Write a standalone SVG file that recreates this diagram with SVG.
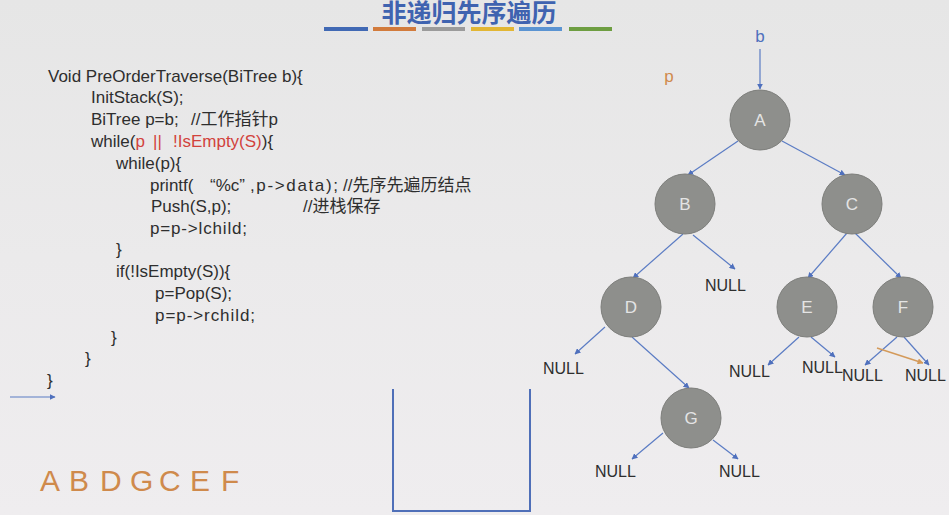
<svg xmlns="http://www.w3.org/2000/svg" width="949" height="515" viewBox="0 0 949 515">
<defs>
<linearGradient id="bg" x1="0" y1="0" x2="0" y2="1">
<stop offset="0" stop-color="#e6e6e6"/>
<stop offset="0.5" stop-color="#ebeaeb"/>
<stop offset="1" stop-color="#efedef"/>
</linearGradient>
<marker id="ah" viewBox="0 0 10 10" refX="9" refY="5" markerWidth="6" markerHeight="6" orient="auto" markerUnits="userSpaceOnUse">
<path d="M0,0 L10,5 L0,10 z" fill="#4f70bd"/>
</marker>
<marker id="aho" viewBox="0 0 10 10" refX="9" refY="5" markerWidth="6" markerHeight="6" orient="auto" markerUnits="userSpaceOnUse">
<path d="M0,0 L10,5 L0,10 z" fill="#d49a5a"/>
</marker>
</defs>
<style>
.code text{font-family:"Liberation Sans","Noto Sans CJK SC",sans-serif;font-size:17px;fill:#2e2e2e}
.code .red{fill:#d2423c}
.node circle{fill:#8e8f8c;stroke:#7d7e7b;stroke-width:1}
.node text{font-family:"Liberation Sans",sans-serif;font-size:17px;fill:#e4e4e4;text-anchor:middle}
.null{font-family:"Liberation Sans",sans-serif;font-size:16px;fill:#2e2e2e}
.res{font-family:"Liberation Sans",sans-serif;font-size:30px;fill:#cf8a4c}
.edge{stroke:#5b7cc4;stroke-width:1.2;fill:none;marker-end:url(#ah)}
</style>
<rect width="949" height="515" fill="url(#bg)"/>
<text x="469" y="22" text-anchor="middle" font-family="Liberation Sans,'Noto Sans CJK SC',sans-serif" font-size="25" font-weight="bold" fill="#3f63b0">非递归先序遍历</text>
<g id="bars">
<rect x="324" y="27" width="44" height="4" fill="#4169b4"/>
<rect x="373" y="27" width="43" height="4" fill="#d27b3c"/>
<rect x="422" y="27" width="43" height="4" fill="#9b9b9b"/>
<rect x="471" y="27" width="43" height="4" fill="#e2b634"/>
<rect x="519" y="27" width="43" height="4" fill="#5b94d2"/>
<rect x="569" y="27" width="43" height="4" fill="#6e9e42"/>
</g>
<g id="code" class="code">
<text x="48" y="82">Void PreOrderTraverse(BiTree b){</text>
<text x="91" y="103">InitStack(S);</text>
<text x="91" y="125">BiTree p=b;</text>
<text x="191" y="125">//工作指针p</text>
<text x="91" y="147">while(<tspan class="red">p</tspan><tspan x="153" class="red">||</tspan><tspan x="173" class="red">!IsEmpty(S)</tspan>){</text>
<text x="116" y="169">while(p){</text>
<text x="150" y="191">printf(</text>
<text x="210" y="191">“%c”</text>
<text x="250" y="191" textLength="88" lengthAdjust="spacing">,p-&gt;data);</text>
<text x="343" y="191">//先序先遍历结点</text>
<text x="151" y="212">Push(S,p);</text>
<text x="303" y="212">//进栈保存</text>
<text x="150" y="234" textLength="97" lengthAdjust="spacing">p=p-&gt;lchild;</text>
<text x="116" y="255">}</text>
<text x="116" y="277">if(!IsEmpty(S)){</text>
<text x="155" y="299">p=Pop(S);</text>
<text x="155" y="321" textLength="100" lengthAdjust="spacing">p=p-&gt;rchild;</text>
<text x="111" y="343">}</text>
<text x="85" y="364">}</text>
<text x="47" y="386">}</text>
</g>
<g id="result" class="res">
<text x="40" y="491">A</text>
<text x="69" y="491">B</text>
<text x="100" y="491">D</text>
<text x="130" y="491">G</text>
<text x="159" y="491">C</text>
<text x="190" y="491">E</text>
<text x="221" y="491">F</text>
</g>
<g id="stack">
<path d="M393,389 V511 H530 V389" fill="none" stroke="#4f6fb8" stroke-width="2"/>
</g>
<g id="labels">
<text x="760" y="42" text-anchor="middle" font-family="Liberation Sans,sans-serif" font-size="17" fill="#4f70bd">b</text>
<text x="669" y="82" text-anchor="middle" font-family="Liberation Sans,sans-serif" font-size="17" fill="#d08a4c">p</text>
</g>
<g id="connectors">
<line class="edge" x1="10" y1="397" x2="55" y2="397"/>
<line class="edge" x1="760" y1="49" x2="760" y2="89"/>
<line class="edge" x1="738" y1="141" x2="688" y2="175"/>
<line class="edge" x1="782" y1="141" x2="845" y2="175"/>
<line class="edge" x1="683" y1="234" x2="633" y2="278"/>
<line class="edge" x1="693" y1="235" x2="735" y2="269"/>
<line class="edge" x1="847" y1="233" x2="808" y2="278"/>
<line class="edge" x1="855" y1="233" x2="901" y2="278"/>
<line class="edge" x1="605" y1="327" x2="575" y2="354"/>
<line class="edge" x1="632" y1="337" x2="689" y2="388"/>
<line class="edge" x1="799" y1="337" x2="768" y2="365"/>
<line class="edge" x1="811" y1="337" x2="835" y2="357"/>
<line class="edge" x1="897" y1="337" x2="865" y2="365"/>
<line class="edge" x1="904" y1="337" x2="929" y2="365"/>
<line class="edge" x1="663" y1="433" x2="632" y2="459"/>
<line class="edge" x1="713" y1="440" x2="738" y2="459"/>
<line x1="877" y1="348" x2="923" y2="363" stroke="#d49a5a" stroke-width="1.4" marker-end="url(#aho)"/>
</g>
<g id="nA" class="node"><circle cx="760" cy="120" r="30"/><text x="760" y="126">A</text></g>
<g id="nB" class="node"><circle cx="685" cy="204" r="30"/><text x="685" y="210">B</text></g>
<g id="nC" class="node"><circle cx="852" cy="204" r="30"/><text x="852" y="210">C</text></g>
<g id="nD" class="node"><circle cx="631" cy="307" r="30"/><text x="631" y="313">D</text></g>
<g id="nE" class="node"><circle cx="807" cy="307" r="30"/><text x="807" y="313">E</text></g>
<g id="nF" class="node"><circle cx="903" cy="307" r="30"/><text x="903" y="313">F</text></g>
<g id="nG" class="node"><circle cx="691" cy="418" r="30"/><text x="691" y="424">G</text></g>
<g id="nulls" class="null">
<text x="705" y="291">NULL</text>
<text x="543" y="374">NULL</text>
<text x="729" y="377">NULL</text>
<text x="802" y="373">NULL</text>
<text x="842" y="381">NULL</text>
<text x="905" y="381">NULL</text>
<text x="595" y="477">NULL</text>
<text x="719" y="477">NULL</text>
</g>
</svg>
